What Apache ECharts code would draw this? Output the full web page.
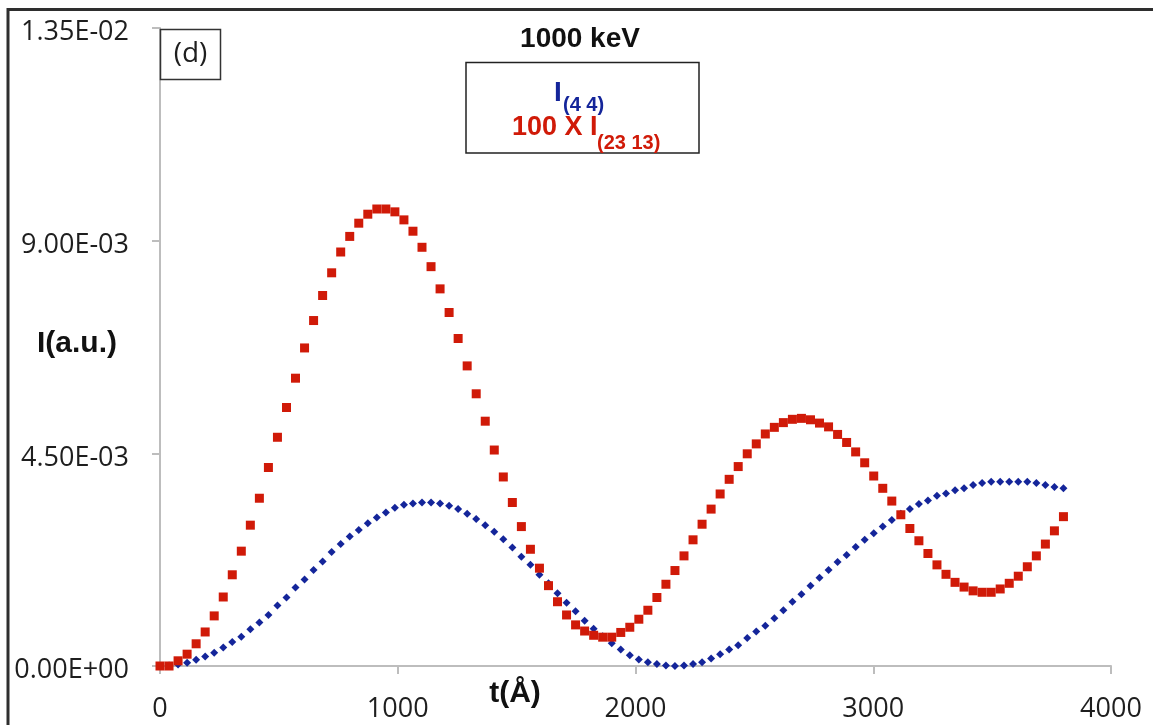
<!DOCTYPE html>
<html>
<head>
<meta charset="utf-8">
<script src="https://cdn.jsdelivr.net/npm/echarts@6/dist/echarts.min.js"></script>
<style>
  html, body { margin: 0; padding: 0; background: #ffffff; }
  #chart { width: 1153px; height: 725px; }
</style>
</head>
<body>
<div id="chart"></div>
<script>
// Thickness t (Å) at which both intensities were sampled
const tValues = [
  0, 38, 76, 114, 152, 190, 228, 266, 304, 342,
  380, 418, 456, 494, 532, 570, 608, 646, 684, 722,
  760, 798, 836, 874, 912, 950, 988, 1026, 1064, 1102,
  1140, 1178, 1216, 1254, 1292, 1330, 1368, 1406, 1444, 1482,
  1520, 1558, 1596, 1634, 1672, 1710, 1748, 1786, 1824, 1862,
  1900, 1938, 1976, 2014, 2052, 2090, 2128, 2166, 2204, 2242,
  2280, 2318, 2356, 2394, 2432, 2470, 2508, 2546, 2584, 2622,
  2660, 2698, 2736, 2774, 2812, 2850, 2888, 2926, 2964, 3002,
  3040, 3078, 3116, 3154, 3192, 3230, 3268, 3306, 3344, 3382,
  3420, 3458, 3496, 3534, 3572, 3610, 3648, 3686, 3724, 3762,
  3800
];

// I(4 4)
const i44 = [
  0, 0.00001, 0.00003, 0.00007, 0.00013, 0.00020, 0.00028, 0.00039, 0.00051, 0.00062,
  0.00078, 0.00092, 0.00108, 0.00128, 0.00145, 0.00166, 0.00183, 0.00203, 0.00221, 0.00241,
  0.00258, 0.00274, 0.00288, 0.00302, 0.00314, 0.00325, 0.00335, 0.00341, 0.00344, 0.00346,
  0.00346, 0.00344, 0.00339, 0.00332, 0.00322, 0.00311, 0.00298, 0.00284, 0.00268, 0.00251,
  0.00231, 0.00214, 0.00193, 0.00175, 0.00154, 0.00134, 0.00116, 0.00096, 0.00079, 0.00063,
  0.00048, 0.00035, 0.00023, 0.00014, 0.00008, 0.00004, 0.00001, 0, 0.00001, 0.00004,
  0.00008, 0.00016, 0.00025, 0.00035, 0.00044, 0.00059, 0.00073, 0.00085, 0.00101, 0.00118,
  0.00136, 0.00152, 0.00170, 0.00187, 0.00203, 0.00220, 0.00235, 0.00252, 0.00267, 0.00281,
  0.00295, 0.00309, 0.00322, 0.00332, 0.00343, 0.00350, 0.00360, 0.00365, 0.00372, 0.00376,
  0.00383, 0.00387, 0.00390, 0.00390, 0.00390, 0.00390, 0.00390, 0.00387, 0.00383, 0.00379,
  0.00376
];

// 100 x I(23 13)
const i2313x100 = [
  0, 0, 0.00011, 0.00025, 0.00047, 0.00072, 0.00106, 0.00146, 0.00193, 0.00243,
  0.00298, 0.00355, 0.00420, 0.00484, 0.00547, 0.00609, 0.00673, 0.00731, 0.00784, 0.00832,
  0.00876, 0.00909, 0.00937, 0.00956, 0.00967, 0.00967, 0.00961, 0.00944, 0.00920, 0.00886,
  0.00845, 0.00798, 0.00748, 0.00693, 0.00635, 0.00576, 0.00518, 0.00457, 0.00400, 0.00346,
  0.00295, 0.00247, 0.00207, 0.00170, 0.00136, 0.00108, 0.00087, 0.00074, 0.00065, 0.00061,
  0.00061, 0.00071, 0.00082, 0.00099, 0.00118, 0.00145, 0.00173, 0.00202, 0.00233, 0.00267,
  0.00300, 0.00332, 0.00364, 0.00395, 0.00422, 0.00449, 0.00470, 0.00491, 0.00505, 0.00515,
  0.00522, 0.00524, 0.00521, 0.00514, 0.00506, 0.00490, 0.00473, 0.00453, 0.00430, 0.00402,
  0.00376, 0.00349, 0.00320, 0.00291, 0.00265, 0.00238, 0.00214, 0.00194, 0.00177, 0.00167,
  0.00159, 0.00156, 0.00156, 0.00163, 0.00175, 0.00190, 0.00210, 0.00233, 0.00258, 0.00286,
  0.00316
];

const xTickLabels = ['0', '1000', '2000', '3000', '4000'];
const yTickLabels = ['0.00E+00', '4.50E-03', '9.00E-03', '1.35E-02'];

const BLUE = '#14259a';
const RED = '#d01a08';
const AXIS_GREY = '#bdbdbd';
const TICK_FONT = '"Open Sans", "Liberation Sans", sans-serif';
const BOLD_FONT = '"Liberation Sans", Arial, sans-serif';

const pairs = (xs, ys) => xs.map((x, i) => [x, ys[i]]);

const chart = echarts.init(document.getElementById('chart'), null, { renderer: 'canvas' });

chart.setOption({
  animation: false,
  backgroundColor: '#ffffff',
  grid: { left: 160, top: 28, right: 42, bottom: 59, containLabel: false },
  xAxis: {
    type: 'value',
    min: 0, max: 4000, interval: 1000,
    axisLine: { show: true, onZero: false, lineStyle: { color: AXIS_GREY, width: 2 } },
    axisTick: { show: true, inside: false, length: 8, lineStyle: { color: AXIS_GREY, width: 2 } },
    splitLine: { show: false },
    axisLabel: {
      fontFamily: TICK_FONT, fontSize: 27, color: '#1e1e1e', margin: 30,
      formatter: (v, i) => xTickLabels[i]
    }
  },
  yAxis: {
    type: 'value',
    min: 0, max: 0.0135, interval: 0.0045,
    axisLine: { show: true, lineStyle: { color: AXIS_GREY, width: 2 } },
    axisTick: { show: true, inside: false, length: 8, lineStyle: { color: AXIS_GREY, width: 2 } },
    splitLine: { show: false },
    axisLabel: {
      fontFamily: TICK_FONT, fontSize: 27, color: '#1e1e1e', margin: 31,
      verticalAlign: 'top', lineHeight: 9,
      formatter: (v, i) => yTickLabels[i]
    }
  },
  series: [
    {
      name: 'I(4 4)',
      type: 'scatter',
      symbol: 'diamond',
      symbolSize: 8,
      itemStyle: { color: BLUE, opacity: 1 },
      data: pairs(tValues, i44),
      z: 2
    },
    {
      name: '100 X I(23 13)',
      type: 'scatter',
      symbol: 'rect',
      symbolSize: 9,
      itemStyle: { color: RED, opacity: 1 },
      data: pairs(tValues, i2313x100),
      z: 3
    }
  ],
  graphic: [
    // outer frame
    { type: 'rect', shape: { x: 8, y: 9.5, width: 1300, height: 900 },
      style: { fill: 'none', stroke: '#2e2e2e', lineWidth: 3 }, z: 10 },
    // panel tag
    { type: 'rect', shape: { x: 160.5, y: 29.5, width: 60, height: 50 },
      style: { fill: '#ffffff', stroke: '#333333', lineWidth: 1.5 }, z: 10 },
    { type: 'text', x: 190.5, y: 54.5, z: 11,
      style: { text: '(d)', font: '28px ' + TICK_FONT, fill: '#1e1e1e',
               textAlign: 'center', textVerticalAlign: 'middle' } },
    // title
    { type: 'text', x: 580, y: 39, z: 11,
      style: { text: '1000 keV', font: 'bold 28px ' + BOLD_FONT, fill: '#111111',
               textAlign: 'center', textVerticalAlign: 'middle' } },
    // series key
    { type: 'rect', shape: { x: 466, y: 62.5, width: 233, height: 90.5 },
      style: { fill: '#ffffff', stroke: '#222222', lineWidth: 1.5 }, z: 10 },
    { type: 'text', x: 554, y: 93, z: 11,
      style: { text: 'I', font: 'bold 28px ' + BOLD_FONT, fill: BLUE,
               textAlign: 'left', textVerticalAlign: 'middle' } },
    { type: 'text', x: 563, y: 105, z: 11,
      style: { text: '(4 4)', font: 'bold 20px ' + BOLD_FONT, fill: BLUE,
               textAlign: 'left', textVerticalAlign: 'middle' } },
    { type: 'text', x: 512, y: 128, z: 11,
      style: { text: '100 X I', font: 'bold 27px ' + BOLD_FONT, fill: RED,
               textAlign: 'left', textVerticalAlign: 'middle' } },
    { type: 'text', x: 597, y: 143, z: 11,
      style: { text: '(23 13)', font: 'bold 20px ' + BOLD_FONT, fill: RED,
               textAlign: 'left', textVerticalAlign: 'middle' } },
    // axis titles
    { type: 'text', x: 77, y: 344, z: 11,
      style: { text: 'I(a.u.)', font: 'bold 30px ' + BOLD_FONT, fill: '#111111',
               textAlign: 'center', textVerticalAlign: 'middle' } },
    { type: 'text', x: 515, y: 694, z: 11,
      style: { text: 't(Å)', font: 'bold 30px ' + BOLD_FONT, fill: '#111111',
               textAlign: 'center', textVerticalAlign: 'middle' } }
  ]
});
</script>
</body>
</html>
